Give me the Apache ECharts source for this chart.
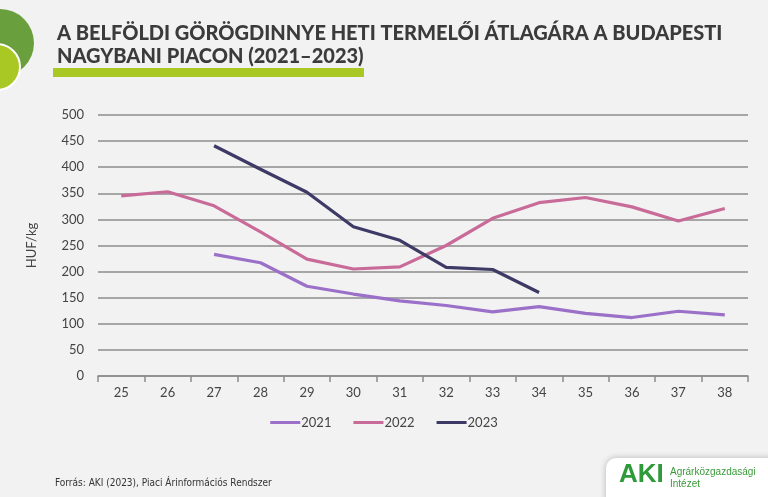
<!DOCTYPE html>
<html>
<head>
<meta charset="utf-8">
<script src="https://cdn.jsdelivr.net/npm/echarts@6/dist/echarts.min.js"></script>
<style>
  html, body { margin: 0; padding: 0; background: #f2f2f2; }
  #main { width: 768px; height: 497px; }
</style>
</head>
<body>
<div id="main"></div>
<script>
// hetek (x tengely)
const weeks = ['25', '26', '27', '28', '29', '30', '31', '32', '33', '34', '35', '36', '37', '38']
// HUF/kg
const y2021 = [null, null, 233, 217, 172, 157, 144, 135, 123, 133, 120, 112, 124, 117]
const y2022 = [345, 353, 326, 276, 224, 205, 209, 250, 302, 332, 342, 324, 297, 321]
const y2023 = [null, null, 441, 396, 352, 286, 260, 208, 204, 160, null, null, null, null]
const yTicks = [0, 50, 100, 150, 200, 250, 300, 350, 400, 450, 500]

const chart = echarts.init(document.getElementById('main'))

const lineStyle = function(color) {
  return {
    type: 'line',
    symbol: 'none',
    connectNulls: false,
    itemStyle: { color: color },
    lineStyle: { width: 3.2, color: color }
  }
}

chart.setOption({
  backgroundColor: '#f2f2f2',
  animation: false,
  title: {
    text: 'A BELFÖLDI GÖRÖGDINNYE HETI TERMELŐI ÁTLAGÁRA A BUDAPESTI\nNAGYBANI PIACON (2021–2023)',
    left: 52,
    top: 17,
    textStyle: {
      fontFamily: 'Lato',
      fontWeight: 900,
      fontSize: 20,
      lineHeight: 23,
      color: '#3b3b3b'
    }
  },
  graphic: [
    { type: 'circle', shape: { cx: 0, cy: 43, r: 34 }, style: { fill: '#6a9f3d' } },
    { type: 'circle', shape: { cx: -3, cy: 67, r: 23 }, style: { fill: '#a9c823', stroke: '#ffffff', lineWidth: 2 } },
    { type: 'rect', shape: { x: 53, y: 68, width: 311, height: 9 }, style: { fill: '#a9c823' } },
    {
      type: 'text', left: 55, top: 478,
      style: { text: 'Forrás: AKI (2023), Piaci Árinformációs Rendszer', font: '10px "Liberation Sans Narrow", "DejaVu Sans Condensed", sans-serif', fill: '#333' }
    },
    { type: 'rect', shape: { x: 606, y: 458, width: 175, height: 50, r: 10 }, style: { fill: '#ffffff', shadowBlur: 6, shadowColor: 'rgba(0,0,0,0.25)' } },
    {
      type: 'text', left: 619, top: 462,
      style: { text: 'AKI', font: 'bold 26px "Liberation Sans", sans-serif', fill: '#2e9a3a' }
    },
    {
      type: 'text', left: 670, top: 466,
      style: { text: 'Agrárközgazdasági\nIntézet', font: '10px "Liberation Sans Narrow", sans-serif', lineHeight: 12, fill: '#3a9a3a' }
    }
  ],
  legend: {
    bottom: 63,
    left: 'center',
    itemWidth: 30,
    itemHeight: 3,
    itemGap: 22,
    icon: 'rect',
    textStyle: { fontFamily: 'Lato', fontSize: 13, color: '#444', padding: [0, 0, 0, -4] },
    data: ['2021', '2022', '2023']
  },
  grid: { left: 98, right: 20, top: 115, bottom: 121 },
  xAxis: {
    type: 'category',
    data: weeks,
    boundaryGap: true,
    axisLine: { lineStyle: { color: '#8c8c8c', width: 1.5 } },
    axisTick: { show: true, length: 6, lineStyle: { color: '#8c8c8c', width: 1.5 } },
    axisLabel: { fontFamily: 'Lato', fontSize: 13, color: '#444', margin: 10 }
  },
  yAxis: {
    type: 'value',
    name: 'HUF/kg',
    nameLocation: 'middle',
    nameGap: 60,
    nameTextStyle: { fontFamily: 'Lato', fontSize: 13, color: '#444' },
    min: yTicks[0],
    max: yTicks[yTicks.length - 1],
    interval: 50,
    axisLine: { show: false },
    axisTick: { show: false },
    axisLabel: { fontFamily: 'Lato', fontSize: 13, color: '#444', margin: 14 },
    splitLine: { lineStyle: { color: '#8c8c8c', width: 1.5 } }
  },
  series: [
    Object.assign({ name: '2021', data: y2021 }, lineStyle('#9a70c9')),
    Object.assign({ name: '2022', data: y2022 }, lineStyle('#c96b98')),
    Object.assign({ name: '2023', data: y2023 }, lineStyle('#3e3a66'))
  ]
})
</script>
</body>
</html>
